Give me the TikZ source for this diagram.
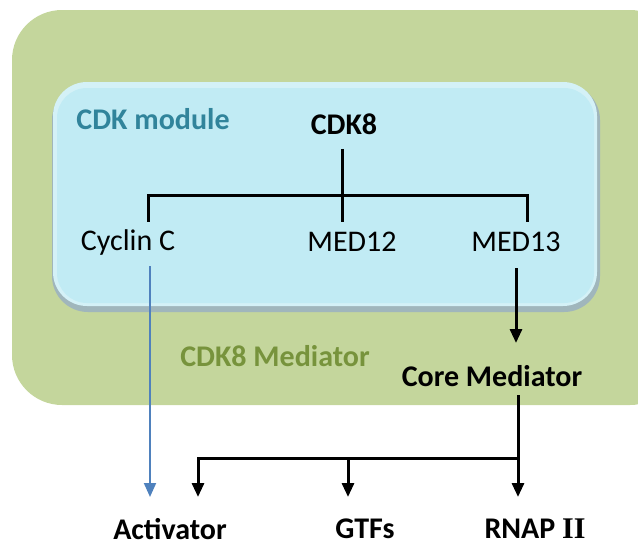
\documentclass[tikz,border=0pt]{standalone}
\usepackage{fontspec}
\setmainfont{Carlito}
\newfontfamily\romanII{Liberation Serif}
\usetikzlibrary{arrows.meta,positioning}
\definecolor{mediatorgreen}{RGB}{196,214,156}
\definecolor{mediatortext}{RGB}{119,147,60}
\definecolor{modulecyan}{RGB}{193,235,244}
\definecolor{moduleedge}{RGB}{120,150,160}
\definecolor{moduletext}{RGB}{49,132,155}
\definecolor{activblue}{RGB}{79,129,189}
\tikzset{
  every node/.style={inner sep=0pt, font=\fontsize{15}{18}\selectfont},
  bold/.style={font=\fontsize{15}{18}\selectfont\bfseries},
  link/.style={line width=1.5pt, black},
  linkarrow/.style={link, -{Triangle[width=6pt,length=7pt]}},
  cyclinarrow/.style={line width=1pt, activblue, -{Triangle[width=6pt,length=7pt]}}
}
\begin{document}
\begin{tikzpicture}[x=0.5pt,y=-0.5pt]
  \useasboundingbox (0,0) rectangle (638,546);
  % boxes
  \fill [mediatorgreen, rounded corners=25pt] (12,10) rectangle (680,405);
  \fill [moduleedge!70, rounded corners=18pt] (52,84) rectangle (600,312);
  \fill [modulecyan!70!white, rounded corners=17pt] (53,82) rectangle (597,306);
  \fill [modulecyan, rounded corners=15pt] (57,88) rectangle (594,303);
  % labels
  \node (cdkmod) [bold, text=moduletext] at (153,119) {CDK module};
  \node (cdkmed) [bold, text=mediatortext] at (275,356) {CDK8 Mediator};
  % CDK module
  \node (cdk8) [bold] at (344,124) {CDK8};
  \node (cyclinc) at (128,242) {Cyclin C};
  \node (med12) at (352,242) {MED12};
  \node (med13) at (516,242) {MED13};
  \coordinate (bar) at (342,195);
  \coordinate (barl) at (148,195);
  \coordinate (barr) at (527,195);
  \draw [link] (cdk8.south -| bar) ++(0,14) -- (bar);
  \draw [link] (barl) ++(0,-1) -- (barl) -- (barr) -- ++(0,-1);
  \draw [link] (barl) -- ++(0,27);
  \draw [link] (bar) -- ++(0,27);
  \draw [link] (barr) -- ++(0,27);
  % core mediator and targets
  \node (coremed) [bold] at (492,376) {Core Mediator};
  \node (activator) [bold] at (170,529) {Activator};
  \node (gtfs) [bold] at (365,529) {GTFs};
  \node (rnap) [bold] at (535,529) {RNAP {\romanII II}};
  \draw [linkarrow] (med13.south) ++(0,16) -- (516,343);
  \coordinate (split) at (518,458);
  \draw [link] (coremed.south -| split) ++(0,8) -- (split);
  \draw [linkarrow] (split) -- (518,497);
  \draw [linkarrow] (split) -- (198,458) -- (198,497);
  \draw [linkarrow] (348,458) -- (348,497);
  \draw [cyclinarrow] (150,266) -- (150,497);
\end{tikzpicture}
\end{document}
